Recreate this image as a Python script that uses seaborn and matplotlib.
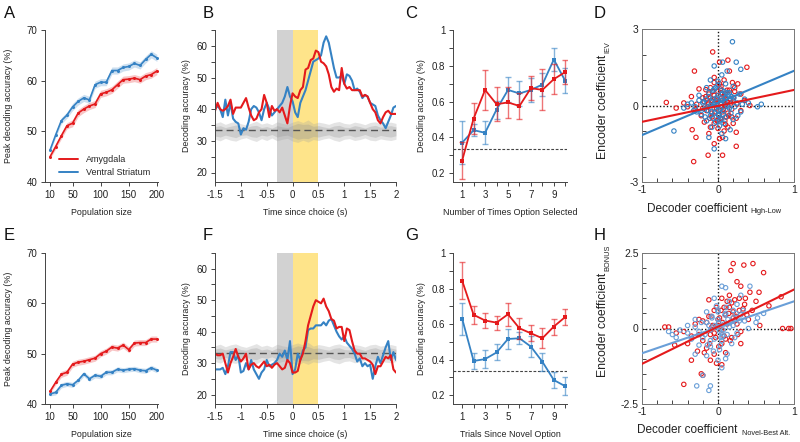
import matplotlib
matplotlib.use("Agg")
import matplotlib.pyplot as plt
from matplotlib.lines import Line2D
import seaborn as sb
import numpy as np

sb.set_style("ticks")
plt.rcParams['font.family'] = ['Liberation Sans', 'DejaVu Sans']
plt.rcParams['axes.unicode_minus'] = False

RED = '#e41a1c'
BLUE = '#3582c4'
BLUE_LIGHT = '#6a9fd8'
TXT = '#222222'
LABEL_SIZE = 6.4

# ---- panels A / E: population size vs peak decoding accuracy
pop_size = [10, 20, 30, 40, 50, 60, 70, 80, 90, 100, 110, 120, 130, 140, 150, 160, 170, 180, 190, 200]
a_amy = [45.0, 47.0, 49.1, 51.1, 51.6, 53.6, 54.4, 55.0, 55.4, 57.4,
         57.7, 58.2, 59.2, 60.2, 60.3, 60.5, 60.2, 60.9, 61.2, 61.9]
a_vs = [46.3, 49.3, 52.1, 53.2, 54.8, 55.9, 56.6, 56.2, 59.2, 59.7,
        59.7, 62.0, 62.0, 62.6, 62.8, 63.4, 63.0, 64.2, 65.2, 64.5]
a_amy_sem = [0.4, 0.5, 0.6, 0.6, 0.7, 0.7, 0.7, 0.7, 0.7, 0.7,
             0.7, 0.7, 0.7, 0.7, 0.7, 0.7, 0.7, 0.7, 0.7, 0.7]
a_vs_sem = [0.4, 0.5, 0.6, 0.6, 0.7, 0.7, 0.7, 0.7, 0.7, 0.7,
            0.7, 0.7, 0.7, 0.7, 0.7, 0.7, 0.7, 0.7, 0.7, 0.7]
e_amy = [42.5, 44.3, 45.9, 46.3, 47.9, 48.3, 48.5, 48.8, 49.1, 50.0,
         50.5, 51.3, 51.1, 51.7, 50.8, 52.1, 52.2, 52.2, 52.9, 52.9]
e_vs = [42.0, 42.3, 43.7, 44.0, 43.8, 44.7, 46.0, 45.0, 45.7, 45.5,
        46.3, 46.3, 46.9, 46.7, 46.9, 47.0, 46.7, 46.6, 47.2, 46.7]
e_amy_sem = [0.4, 0.5, 0.6, 0.6, 0.6, 0.6, 0.6, 0.6, 0.6, 0.6,
             0.6, 0.6, 0.6, 0.6, 0.6, 0.6, 0.6, 0.6, 0.6, 0.6]
e_vs_sem = [0.4, 0.5, 0.5, 0.5, 0.5, 0.5, 0.5, 0.5, 0.5, 0.5,
            0.5, 0.5, 0.5, 0.5, 0.5, 0.5, 0.5, 0.5, 0.5, 0.5]

# ---- panels B / F: decoding accuracy over time (0.05 s bins)
time_s = np.round(np.arange(-1.5, 2.0001, 0.05), 2)
b_amy = [39.5, 42, 40, 39.5, 40, 41, 43, 38.5, 40.5, 40.5,
         40.5, 42, 43.5, 40.5, 38, 36.5, 37, 39, 40, 44.5,
         42, 37.5, 41, 39.5, 40, 39, 40.5, 38, 35.5, 41,
         45, 44, 43.5, 46, 47, 52.5, 53, 55.5, 56, 58.5,
         58, 55, 54.5, 53.5, 51, 47, 45.5, 46.5, 46, 53,
         48, 46.5, 47, 46, 46, 46, 46, 44, 44.5, 44,
         42, 40, 39, 36.5, 35.5, 37.5, 39, 39.5, 38.5, 38.5,
         38.5]
b_vs = [40, 41, 40, 37.5, 43, 38, 42, 37, 36, 35.5,
        32, 34, 33.5, 36, 40, 41, 40.5, 39, 36.5, 40,
        42, 40, 38, 39, 40, 41, 42, 44, 47, 44,
        42.5, 39, 37.5, 42, 44, 46, 49, 52, 55, 55.5,
        56, 57, 61, 63, 61, 57, 53, 50, 50, 50.5,
        48, 51, 50.5, 49, 46, 46.5, 45.5, 43.5, 44.5, 44,
        42, 41.5, 41, 38, 36.5, 35.5, 34, 36, 38, 40.5,
        41]
f_amy = [33, 32.5, 32.5, 33, 30, 27, 30, 32, 34.5, 32,
         30.5, 31.5, 33, 28, 29.5, 30, 29, 28.5, 29.5, 30.5,
         29, 29.5, 28.5, 29.5, 30, 29, 28, 28.5, 31, 30,
         27, 27, 27.5, 31, 33, 37, 42, 45, 48, 50,
         49.5, 49, 50.5, 48, 46.5, 44, 43.5, 41, 41.5, 41.5,
         37, 41, 40.5, 37, 34, 33, 33, 31.5, 31.5, 31,
         30.5, 29.5, 26.5, 29, 29, 30.5, 32, 31.5, 32.5, 28,
         27]
f_vs = [28, 28, 28, 28.5, 26.5, 29, 33.5, 33.5, 31, 32.5,
        27, 27.5, 30, 28, 31, 28, 26.5, 25, 27, 28,
        31, 29, 29.5, 30, 31, 33, 32, 34, 31, 37,
        26.5, 28, 33, 31, 34, 35, 40.5, 41, 41, 42,
        42, 42, 43, 42, 43.5, 44, 42, 40, 38.5, 37.5,
        38.5, 36.5, 35.5, 34.5, 33, 30.5, 31.5, 29, 30, 29,
        29.5, 25, 29, 32, 30, 32.5, 35, 37, 31, 33.5,
        31]
# shuffled-label null bands (0.1 s bins)
time_null = np.round(np.arange(-1.5, 2.0001, 0.1), 2)
null1_hi = [35.5, 36.0, 35.2, 35.8, 36.1, 35.4, 35.0, 35.6, 36.2, 35.3,
            35.7, 35.1, 36.0, 35.5, 35.2, 35.9, 36.4, 35.8, 36.6, 35.4,
            35.9, 35.6, 35.2, 35.8, 36.1, 35.5, 35.3, 35.9, 35.6, 35.1,
            35.8, 36.0, 35.4, 35.7, 35.9, 35.5]
null1_lo = [30.5, 30.0, 30.8, 30.2, 29.9, 30.6, 31.0, 30.3, 29.8, 30.7,
            30.1, 30.9, 30.0, 30.5, 30.8, 29.9, 29.5, 30.2, 29.6, 30.4,
            30.1, 30.6, 30.9, 30.2, 29.8, 30.5, 30.7, 30.1, 30.4, 30.9,
            30.2, 30.0, 30.6, 30.3, 30.1, 30.5]
null2_hi = [34.5, 34.8, 34.2, 34.6, 35.0, 34.3, 34.1, 34.7, 34.9, 34.2,
            34.5, 34.0, 34.8, 34.4, 34.2, 34.9, 35.5, 35.2, 35.3, 34.6,
            34.8, 34.4, 34.1, 34.7, 34.9, 34.3, 34.2, 34.8, 34.5, 34.0,
            34.6, 34.9, 34.3, 34.6, 34.8, 34.4]
null2_lo = [31.5, 31.2, 31.8, 31.4, 31.0, 31.7, 31.9, 31.3, 31.1, 31.8,
            31.5, 32.0, 31.2, 31.6, 31.8, 31.1, 30.5, 30.8, 30.7, 31.4,
            31.2, 31.6, 31.9, 31.3, 31.1, 31.7, 31.8, 31.2, 31.5, 32.0,
            31.4, 31.1, 31.7, 31.4, 31.2, 31.6]
chance_pct = 33.3

# ---- panels C / G: accuracy vs count
count_x = [1, 2, 3, 4, 5, 6, 7, 8, 9, 10]
c_amy = [0.27, 0.505, 0.665, 0.585, 0.595, 0.575, 0.675, 0.665, 0.725, 0.765]
c_amy_err = [0.105, 0.085, 0.11, 0.095, 0.085, 0.07, 0.065, 0.115, 0.085, 0.065]
c_vs = [0.37, 0.44, 0.425, 0.555, 0.665, 0.645, 0.665, 0.695, 0.835, 0.715]
c_vs_err = [0.12, 0.035, 0.065, 0.05, 0.07, 0.07, 0.065, 0.065, 0.065, 0.07]
g_amy = [0.844, 0.652, 0.62, 0.608, 0.655, 0.576, 0.548, 0.52, 0.586, 0.64]
g_amy_err = [0.105, 0.05, 0.04, 0.04, 0.065, 0.06, 0.045, 0.055, 0.045, 0.045]
g_vs = [0.63, 0.392, 0.403, 0.44, 0.516, 0.52, 0.473, 0.388, 0.285, 0.25]
g_vs_err = [0.09, 0.045, 0.05, 0.045, 0.055, 0.035, 0.06, 0.05, 0.045, 0.05]
chance_frac = 0.333

# ---- panels D / H: decoder vs encoder coefficients
d_amy_x = [-0.07, 0.02, 0.13, 0.38, -0.31, 0.15, -0.05, 0.08, 0.19, 0.26, -0.25, -0.16, -0.1, 0.04, 0.12,
           0.22, 0.3, -0.35, -0.2, -0.05, 0.08, 0.16, 0.35, -0.68, -0.45, -0.4, -0.28, -0.12, 0.0, 0.1,
           0.25, 0.42, -0.55, -0.3, -0.15, -0.02, 0.06, 0.18, 0.3, -0.22, -0.08, 0.03, 0.14, 0.24, -0.18,
           -0.05, 0.1, 0.2, -0.1, 0.0, 0.13, -0.34, -0.29, -0.12, 0.02, 0.24, 0.06, -0.05, 0.24, -0.13,
           0.06, -0.32, 0.0, -0.02, 0.05, -0.08, 0.12, -0.12, 0.2, 0.09,
           -0.03, 0.01, 0.04, -0.06, 0.07, -0.1, 0.11, -0.14, 0.15, -0.18, 0.02, -0.01, 0.05, -0.04, 0.09,
           -0.07, 0.13, -0.11, 0.17, -0.2, 0.0, 0.03, -0.05, 0.08, -0.09, 0.1, -0.13, 0.18, -0.16, 0.22]
d_amy_y = [2.1, 1.7, 1.78, 1.5, 1.35, 1.35, 1.1, 1.0, 0.9, 0.85, 0.65, 0.62, 0.7, 0.75, 0.6,
           0.55, 0.45, 0.35, 0.3, 0.4, 0.35, 0.25, 0.2, 0.12, 0.1, -0.05, 0.05, 0.1, 0.15, 0.05,
           0.05, 0.0, -0.1, -0.15, -0.2, -0.1, -0.25, -0.15, -0.2, -0.4, -0.45, -0.5, -0.4, -0.5, -0.65,
           -0.7, -0.75, -0.7, -0.85, -0.9, -0.85, -0.95, -1.25, -1.1, -1.3, -1.05, -1.25, -1.5, -1.6, -1.95,
           -1.95, -2.2, 0.55, 0.25, -0.05, -0.3, 0.15, 0.45, 0.3, -0.6,
           0.2, -0.35, 0.5, 0.05, -0.15, 0.3, -0.45, -0.05, 0.6, 0.15, 0.85, -0.6, 0.3, -0.25, 0.45,
           0.55, -0.3, -0.5, 0.1, -0.1, -0.55, 0.65, 0.9, -1.0, 0.2, 0.25, 0.05, -0.45, 0.35, 0.7]
d_vs_x = [0.19, 0.24, 0.3, -0.05, 0.06, 0.05, 0.12, -0.1, 0.0, 0.1, 0.2, -0.15, -0.05, 0.05, 0.15,
          0.28, -0.25, -0.12, 0.0, 0.1, 0.2, 0.35, -0.4, -0.3, -0.2, -0.08, 0.03, 0.12, 0.22, 0.4,
          0.52, 0.57, -0.45, -0.32, -0.18, -0.05, 0.07, 0.17, 0.3, -0.22, -0.1, 0.0, 0.1, 0.2, -0.15,
          -0.03, 0.08, 0.16, -0.08, 0.02, -0.58, -0.05, -0.12, 0.05, 0.1, -0.25, -0.02, 0.06, -0.14, 0.14,
          -0.06, 0.0, 0.25, -0.35, 0.04, 0.32,
          -0.02, 0.03, -0.05, 0.06, -0.09, 0.09, -0.12, 0.13, -0.16, 0.18, 0.01, -0.03, 0.04, -0.07, 0.08,
          -0.1, 0.11, -0.13, 0.15, -0.19, 0.0, 0.02, -0.04, 0.07, -0.06, 0.12, -0.17, 0.21, 0.26, -0.28]
d_vs_y = [2.5, 1.7, 1.42, 1.55, 1.7, 1.2, 1.35, 1.0, 0.95, 0.85, 0.75, 0.7, 0.65, 0.6, 0.5,
          0.45, 0.4, 0.35, 0.4, 0.3, 0.2, 0.25, 0.05, -0.05, 0.1, 0.15, 0.1, 0.0, -0.05, 0.1,
          -0.05, 0.05, -0.1, -0.2, -0.15, -0.1, -0.2, -0.3, -0.25, -0.35, -0.4, -0.35, -0.45, -0.55, -0.6,
          -0.65, -0.7, -0.95, -0.85, -0.8, -1.0, -1.7, -1.25, -1.1, -1.3, 0.2, 0.0, 0.2, -0.05, 0.4,
          0.25, -0.2, 0.1, 0.1, -0.55, 0.05,
          0.3, -0.15, 0.05, 0.45, -0.25, 0.15, 0.5, -0.05, 0.25, 0.35, -0.4, 0.7, 0.2, -0.5, 0.55,
          0.0, 0.3, -0.2, -0.1, 0.15, 0.8, -0.6, -0.3, -0.35, 0.6, 0.5, -0.45, 0.3, -0.4, -0.25]
d_fit_x = [-1, 1]
d_fit_amy = [-0.64, 0.61]
d_fit_vs = [-1.16, 1.36]

h_amy_x = [0.2, 0.17, 0.34, 0.46, 0.6, 0.25, 0.3, 0.42, 0.54, 0.83, 0.85, 0.93, 0.96, 0.67, 0.5,
           0.05, -0.12, 0.22, 0.35, 0.15, 0.28, 0.45, 0.1, 0.2, 0.4, 0.55, -0.05, -0.2, -0.3, -0.45,
           -0.65, -0.7, -0.55, -0.35, -0.2, -0.1, 0.0, 0.05, 0.12, 0.3, 0.3, -0.27, -0.4, -0.15, 0.05,
           -0.57, -0.35, -0.1, -0.02, 0.05, -0.2, -0.22, -0.45, 0.1, -0.05, 0.18, 0.25, -0.12, 0.0, 0.08,
           0.15, 0.28, 0.38, -0.25, -0.08,
           0.02, -0.03, 0.06, -0.07, 0.1, -0.11, 0.14, -0.15, 0.18, 0.22, 0.26, 0.33, 0.01, -0.05, 0.08,
           -0.09, 0.12, 0.16, 0.2, -0.18, 0.04, -0.02, 0.24, 0.36, -0.25]
h_amy_y = [2.15, 1.92, 2.1, 2.15, 1.85, 1.55, 1.4, 1.2, 1.2, 1.05, 0.0, 0.0, 0.0, 0.75, 0.9,
           1.0, 0.95, 0.95, 0.8, 0.7, 0.6, 0.6, 0.45, 0.35, 0.3, 0.1, 0.6, 0.25, 0.15, -0.1,
           0.05, 0.05, -0.15, -0.25, -0.4, -0.2, 0.1, -0.05, 0.15, -0.1, -0.5, -0.75, -0.5, -0.65, -0.5,
           -0.55, -1.05, -1.05, -1.15, -1.2, -1.55, -1.5, -1.85, -0.8, -0.85, -0.3, 0.15, 0.4, 0.3, 0.7,
           1.1, 1.0, 0.45, -0.2, 0.05,
           0.35, -0.3, 0.2, 0.1, -0.35, -0.5, 0.5, 0.2, 0.85, 0.25, -0.2, 0.65, -0.6, -0.15, -0.25,
           0.4, 0.9, -0.4, 0.55, -0.8, 0.6, 0.7, 0.4, 1.0, 0.3]
h_vs_x = [-0.12, -0.28, -0.1, -0.2, 0.05, 0.05, 0.1, 0.42, 0.3, -0.3, -0.6, -0.65, 0.5, 0.52, -0.05,
          0.15, 0.25, -0.15, 0.0, 0.1, 0.3, -0.3, -0.15, 0.0, 0.08, 0.2, 0.4, -0.5, -0.4, -0.25,
          -0.1, 0.02, 0.12, 0.25, -0.35, -0.2, -0.05, 0.05, 0.18, -0.25, -0.1, 0.02, 0.12, -0.15, 0.0,
          0.1, -0.55, 0.35, -0.02, 0.06, -0.08, 0.2, 0.6, -0.4, 0.15,
          0.01, -0.04, 0.05, -0.08, 0.09, -0.12, 0.13, -0.17, 0.2, 0.24, -0.22, 0.03, -0.02, 0.07, -0.06,
          0.11, -0.1, 0.16, 0.28, -0.3, 0.0, 0.04, -0.14, 0.22, 0.33]
h_vs_y = [-2.05, -1.9, -1.9, -1.55, -1.3, 1.4, 1.35, 1.4, 1.1, -0.85, -0.2, -0.1, 0.2, 0.35, 1.0,
          0.9, 0.8, 0.55, 0.6, 0.5, 0.45, 0.3, 0.2, 0.3, 0.15, 0.1, 0.0, -0.05, -0.15, -0.1,
          -0.05, -0.1, -0.2, -0.15, -0.35, -0.3, -0.35, -0.4, -0.5, -0.55, -0.6, -0.7, -0.85, -0.9, -1.05,
          -1.0, -0.3, 0.25, 0.05, -0.25, 0.4, 0.6, 0.5, 0.1, 0.05,
          0.2, 0.1, -0.15, 0.35, 0.45, 0.1, 0.3, -0.2, 0.35, 0.5, 0.2, -0.55, 0.75, -0.05, -0.75,
          0.7, -0.4, 0.2, 0.25, 0.05, 0.55, -0.3, -0.55, -0.3, 0.6]
h_fit_x = [-1, 1]
h_fit_amy = [-1.17, 1.29]
h_fit_vs = [-0.82, 0.9]


def style_axis(axis, tick_dir='out'):
    axis.tick_params(which='both', labelsize=7, length=3, width=0.7, pad=2.5, colors='#444444',
                     labelcolor=TXT, direction=tick_dir)
    for side in axis.spines.values():
        side.set_linewidth(0.7)
        side.set_color('#444444')


def population_panel(axis, amy, amy_sem, vs, vs_sem, legend=False):
    for vals, sem, color in [(amy, amy_sem, RED), (vs, vs_sem, BLUE)]:
        vals = np.array(vals)
        sem = np.array(sem)
        axis.fill_between(pop_size, vals - sem, vals + sem, color=color, alpha=0.25, lw=0)
        sb.lineplot(x=pop_size, y=vals, ax=axis, color=color, lw=1.2, marker='o',
                    markersize=2.2, markeredgewidth=0)
    axis.set_xlim(1, 202)
    axis.set_ylim(40, 70)
    axis.set_xticks([10, 50, 100, 150, 200])
    axis.set_yticks([40, 50, 60, 70])
    axis.set_xlabel('Population size', fontsize=LABEL_SIZE, labelpad=6, color=TXT)
    axis.set_ylabel('Peak decoding accuracy (%)', fontsize=LABEL_SIZE, labelpad=10, color=TXT)
    sb.despine(ax=axis)
    style_axis(axis)
    if legend:
        handles = [Line2D([], [], color=RED, lw=1.4), Line2D([], [], color=BLUE, lw=1.4)]
        axis.legend(handles, ['Amygdala', 'Ventral Striatum'], loc='lower right',
                    bbox_to_anchor=(1.0, -0.02), frameon=False, fontsize=6.5,
                    handlelength=2.2, handletextpad=0.8, labelspacing=0.45)


def time_panel(axis, amy, vs):
    axis.axvspan(-0.31, 0, color='#d2d2d2', lw=0, zorder=0)
    axis.axvspan(0, 0.5, color='#fee48a', lw=0, zorder=0)
    axis.fill_between(time_null, null1_lo, null1_hi, color='#a0a0a0', alpha=0.28, lw=0)
    axis.fill_between(time_null, null2_lo, null2_hi, color='#909090', alpha=0.28, lw=0)
    axis.axhline(chance_pct, color='#555555', lw=1.0, ls=(0, (5, 3)))
    sb.lineplot(x=time_s, y=vs, ax=axis, color=BLUE, lw=1.5)
    sb.lineplot(x=time_s, y=amy, ax=axis, color=RED, lw=1.5)
    axis.set_xlim(-1.5, 2)
    axis.set_ylim(17, 65)
    axis.set_xticks([-1.5, -1, -0.5, 0, 0.5, 1, 1.5, 2])
    axis.set_xticklabels(['-1.5', '-1', '-0.5', '0', '0.5', '1', '1.5', '2'])
    axis.set_yticks([20, 30, 40, 50, 60])
    axis.set_yticks([25, 35, 45, 55, 65], minor=True)
    axis.set_xlabel('Time since choice (s)', fontsize=LABEL_SIZE, labelpad=6, color=TXT)
    axis.set_ylabel('Decoding accuracy (%)', fontsize=LABEL_SIZE, labelpad=4, color=TXT)
    sb.despine(ax=axis)
    style_axis(axis)


def count_panel(axis, amy, amy_err, vs, vs_err, xlabel):
    axis.axhline(chance_frac, color='#444444', lw=0.8, ls=(0, (2.5, 1.5)))
    for vals, err, color in [(vs, vs_err, BLUE), (amy, amy_err, RED)]:
        axis.errorbar(count_x, vals, yerr=err, fmt='none', ecolor=color, alpha=0.6,
                      elinewidth=1.0, capsize=2.5, capthick=1.0)
        sb.lineplot(x=count_x, y=vals, ax=axis, color=color, lw=1.3, marker='s',
                    markersize=3.5, markeredgewidth=0)
    axis.set_xlim(0.2, 10.15)
    axis.set_ylim(0.15, 1)
    axis.set_xticks([1, 3, 5, 7, 9])
    axis.set_xticks([2, 4, 6, 8, 10], minor=True)
    axis.set_yticks([0.2, 0.4, 0.6, 0.8, 1.0])
    axis.set_yticklabels(['0.2', '0.4', '0.6', '0.8', '1'])
    axis.set_yticks([0.3, 0.5, 0.7, 0.9], minor=True)
    axis.set_xlabel(xlabel, fontsize=LABEL_SIZE, labelpad=6, color=TXT)
    axis.set_ylabel('Decoding accuracy (%)', fontsize=LABEL_SIZE, labelpad=4, color=TXT)
    sb.despine(ax=axis)
    style_axis(axis)


def coef_panel(axis, amy_x, amy_y, vs_x, vs_y, fit_x, fit_amy, fit_vs, vs_color, ylim, ystep,
               y_sub, x_sub, ylab_top, xlab_right):
    axis.axhline(0, color='#111111', lw=1.0, ls=(0, (1, 1.5)), zorder=1)
    axis.axvline(0, color='#111111', lw=1.0, ls=(0, (1, 1.5)), zorder=1)
    sb.scatterplot(x=amy_x, y=amy_y, ax=axis, s=10, fc='none', ec=RED, linewidth=0.8, zorder=2)
    sb.scatterplot(x=vs_x, y=vs_y, ax=axis, s=10, fc='none', ec=vs_color, linewidth=0.8, zorder=2)
    sb.lineplot(x=fit_x, y=fit_vs, ax=axis, color=vs_color, lw=1.5, zorder=3)
    sb.lineplot(x=fit_x, y=fit_amy, ax=axis, color=RED, lw=1.5, zorder=3)
    axis.set_xlim(-1, 1)
    axis.set_ylim(-ylim, ylim)
    axis.set_xticks([-1, 0, 1])
    axis.set_xticklabels(['-1', '0', '1'])
    axis.set_xticks(np.round(np.arange(-0.8, 0.81, 0.2), 1), minor=True)
    axis.set_yticks([-ylim, 0, ylim])
    axis.set_yticklabels([f'{-ylim:g}', '0', f'{ylim:g}'])
    axis.set_yticks(np.arange(-ylim + ystep, ylim - 0.01, ystep), minor=True)
    style_axis(axis, tick_dir='in')
    axis.tick_params(labelsize=7.5)
    for side in axis.spines.values():
        side.set_color('#777777')
    axis.text(-0.255, ylab_top, 'Encoder coefficient', rotation=90, ha='center', va='top',
              transform=axis.transAxes, fontsize=8.8, color=TXT)
    axis.text(-0.222, ylab_top + 0.015, y_sub, rotation=90, ha='center', va='bottom',
              transform=axis.transAxes, fontsize=5.3, color=TXT)
    axis.text(xlab_right, -0.135, 'Decoder coefficient', ha='right', va='top',
              transform=axis.transAxes, fontsize=8.5, color=TXT)
    axis.text(xlab_right + 0.025, -0.17, x_sub, ha='left', va='top',
              transform=axis.transAxes, fontsize=5.3, color=TXT)


figure = plt.figure(figsize=(8, 4.42), dpi=100)
W, H = 800, 442


def add_panel(left, top, right, bottom):
    return figure.add_axes([left / W, 1 - bottom / H, (right - left) / W, (bottom - top) / H])


ax_a = add_panel(45, 30, 158, 182)
ax_b = add_panel(215, 30, 396, 182)
ax_c = add_panel(453, 30, 567, 182)
ax_d = add_panel(642, 29, 794, 182)
ax_e = add_panel(45, 253, 158, 404)
ax_f = add_panel(215, 253, 396, 404)
ax_g = add_panel(453, 253, 567, 404)
ax_h = add_panel(642, 253, 794, 404)

population_panel(ax_a, a_amy, a_amy_sem, a_vs, a_vs_sem, legend=True)
population_panel(ax_e, e_amy, e_amy_sem, e_vs, e_vs_sem)
time_panel(ax_b, b_amy, b_vs)
time_panel(ax_f, f_amy, f_vs)
count_panel(ax_c, c_amy, c_amy_err, c_vs, c_vs_err, 'Number of Times Option Selected')
count_panel(ax_g, g_amy, g_amy_err, g_vs, g_vs_err, 'Trials Since Novel Option')
coef_panel(ax_d, d_amy_x, d_amy_y, d_vs_x, d_vs_y, d_fit_x, d_fit_amy, d_fit_vs, BLUE, 3, 1,
           'IEV', 'High-Low', 0.83, 0.69)
coef_panel(ax_h, h_amy_x, h_amy_y, h_vs_x, h_vs_y, h_fit_x, h_fit_amy, h_fit_vs, BLUE_LIGHT, 2.5, 0.5,
           'BONUS', 'Novel-Best Alt.', 0.868, 0.63)

for letter, (px, py) in zip('ABCDEFGH', [(4, 6), (203, 6), (405, 6), (594, 6),
                                          (4, 228), (203, 228), (405, 228), (594, 228)]):
    figure.text(px / W, 1 - py / H, letter, fontsize=12, va='top', ha='left', color='#111111')

plt.savefig('out.png', dpi=100)
